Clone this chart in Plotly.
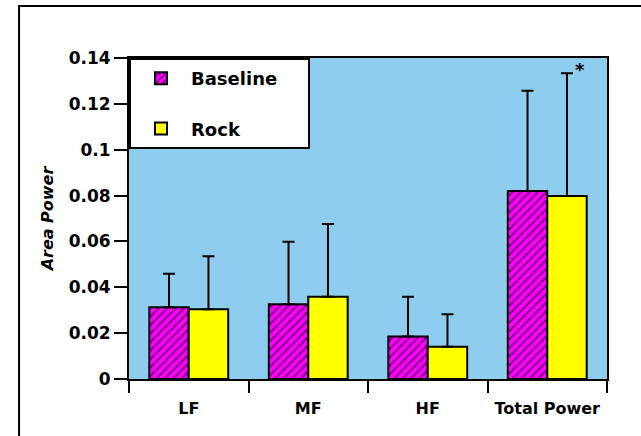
import plotly.graph_objects as go

categories = ["LF", "MF", "HF", "Total Power"]
baseline = [0.0313, 0.0326, 0.0185, 0.0820]
baseline_err = [0.0146, 0.0273, 0.0174, 0.0437]
rock = [0.0304, 0.0359, 0.0141, 0.0798]
rock_err = [0.0231, 0.0317, 0.0141, 0.0535]
y_tickvals = [0, 0.02, 0.04, 0.06, 0.08, 0.1, 0.12, 0.14]
y_ticktext = ["0", "0.02", "0.04", "0.06", "0.08", "0.1", "0.12", "0.14"]
zeros = [0, 0, 0, 0]

FONT = "DejaVu Sans"
BLUE = "#8ecdee"
PAD = "\u00a0" * 4

fig = go.Figure()
fig.add_trace(go.Bar(
    name="Baseline" + PAD, x=categories, y=baseline, legendgroup="b",
    marker=dict(color="#ff00ff", line=dict(color="black", width=2),
                pattern=dict(shape="/", fgcolor="black", bgcolor="#ff00ff",
                             size=6, solidity=0.35)),
    error_y=dict(type="data", array=baseline_err, arrayminus=zeros, symmetric=False,
                 color="black", thickness=2, width=6),
))
fig.add_trace(go.Bar(
    name="Rock", x=categories, y=rock, legendgroup="r",
    marker=dict(color="#ffff00", line=dict(color="black", width=2)),
    error_y=dict(type="data", array=rock_err, arrayminus=zeros, symmetric=False,
                 color="black", thickness=2, width=6),
))

fig.add_annotation(x=categories[3], y=rock[3] + rock_err[3], text="<b>*</b>",
                   showarrow=False, xshift=33, yshift=4,
                   font=dict(family=FONT, size=18, color="black"))

# outer frame
fig.add_shape(type="rect", xref="paper", yref="paper",
              x0=-0.230, y0=-0.25, x1=1.1, y1=1.162,
              line=dict(color="black", width=2), layer="below")

fig.update_layout(
    width=641, height=436, autosize=False,
    margin=dict(l=129, r=34, t=58, b=57, autoexpand=False),
    paper_bgcolor="white", plot_bgcolor=BLUE,
    barmode="group", bargap=0.34, bargroupgap=0,
    font=dict(family=FONT, size=17, color="black", weight="bold"),
    legend=dict(x=0, y=1, xanchor="left", yanchor="top",
                bgcolor="white", bordercolor="black", borderwidth=2,
                font=dict(family=FONT, size=18, color="black", weight="bold"),
                tracegroupgap=24, itemwidth=50),
    showlegend=True,
)
fig.update_xaxes(
    type="category", automargin=False, tickangle=0,
    showgrid=False, showline=True, linecolor="black", linewidth=2,
    mirror=True, ticks="outside", tickson="boundaries", ticklen=12, tickwidth=2,
    tickcolor="black", ticklabelstandoff=14,
    tickfont=dict(family=FONT, size=16, weight="bold"),
)
fig.update_yaxes(
    automargin=False,
    range=[0, 0.14], showgrid=False, zeroline=False, showline=True, linecolor="black",
    linewidth=2, mirror=True, ticks="outside", ticklen=13, tickwidth=2, tickcolor="black",
    tickvals=y_tickvals, ticktext=y_ticktext,
    tickfont=dict(family=FONT, size=17, weight="bold"),
    title=dict(text="<i>Area Power</i>", font=dict(family=FONT, size=16, weight="bold"),
               standoff=11),
)

fig.write_html("out.html", config={"displayModeBar": False},
               post_script="document.body.style.margin='0';")
